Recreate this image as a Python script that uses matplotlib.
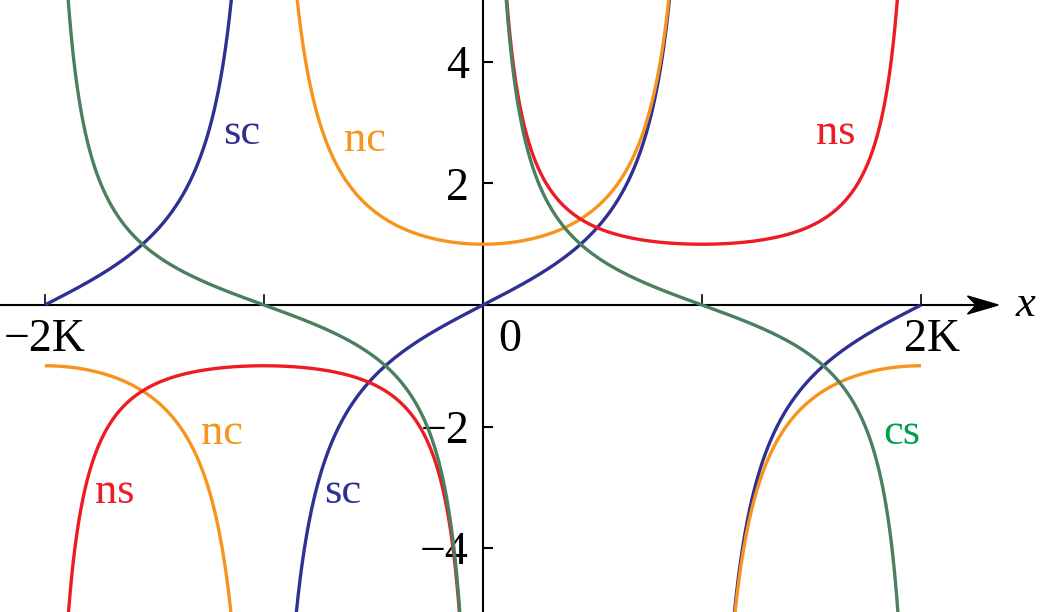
# Jacobi elliptic functions sc, nc, ns, cs on [-2K, 2K]
import numpy as np
import matplotlib
matplotlib.use("Agg")
import matplotlib.pyplot as plt
from matplotlib.patches import Polygon

plt.rcParams["font.family"] = ["Liberation Serif", "DejaVu Serif"]

# ---- data ----
M = 0.5  # parameter m = k^2
FUNCS = ["sc", "nc", "ns", "cs"]
COLORS = {"sc": "#2e3192", "nc": "#f7941d", "ns": "#ed1c24", "cs": "#4a7f5f"}
LABEL_COLORS = {"sc": "#2e3192", "nc": "#f7941d", "ns": "#ed1c24", "cs": "#00a14b"}
# branches between poles, in units of K
BRANCHES = {
    "sc": [(-2, -1), (-1, 1), (1, 2)],
    "nc": [(-2, -1), (-1, 1), (1, 2)],
    "ns": [(-2, 0), (0, 2)],
    "cs": [(-2, 0), (0, 2)],
}
LABELS = [("sc", -1.10, 2.83), ("nc", -0.54, 2.72), ("ns", 1.61, 2.83),
          ("nc", -1.19, -2.10), ("ns", -1.68, -3.07), ("sc", -0.64, -3.07),
          ("cs", 1.91, -2.10)]
XTICKS = [-2, -1, 1, 2]
YTICKS = [-4, -2, 2, 4]
XLIM = (-2.205, 2.543)
YLIM = (-5.053, 5.02)


def agm_K(m):
    a, b = 1.0, np.sqrt(1 - m)
    for _ in range(30):
        a, b = (a + b) / 2, np.sqrt(a * b)
    return np.pi / (2 * a)


def ellipj(u, m):
    # descending Landen / AGM, returns sn, cn
    a = [1.0]
    b = np.sqrt(1 - m)
    c = [np.sqrt(m)]
    while abs(c[-1]) > 1e-15 and len(a) < 20:
        an = (a[-1] + b) / 2
        cn_ = (a[-1] - b) / 2
        b = np.sqrt(a[-1] * b)
        a.append(an)
        c.append(cn_)
    n = len(a) - 1
    phi = (2 ** n) * a[n] * u
    for i in range(n, 0, -1):
        phi = (phi + np.arcsin(c[i] / a[i] * np.sin(phi))) / 2
    return np.sin(phi), np.cos(phi)


def func(name, u, m):
    sn, cn = ellipj(u, m)
    with np.errstate(divide="ignore", invalid="ignore"):
        return {"sc": sn / cn, "nc": 1 / cn, "ns": 1 / sn, "cs": cn / sn}[name]


K = agm_K(M)

fig = plt.figure(figsize=(10.4, 6.12), dpi=100)
ax = fig.add_axes([0, 0, 1, 1])

for name in FUNCS:
    for lo, hi in BRANCHES[name]:
        t = np.linspace(lo + 1e-4, hi - 1e-4, 1500)
        y = func(name, t * K, M)
        y[np.abs(y) > 8] = np.nan
        ax.plot(t, y, color=COLORS[name], lw=2.4, solid_capstyle="butt", zorder=3)

for name, tx, ty in LABELS:
    ax.text(tx, ty, name, color=LABEL_COLORS[name], fontsize=32,
            ha="center", va="center", zorder=4)

ax.set_xlim(*XLIM)
ax.set_ylim(*YLIM)
for s in ("top", "right", "bottom"):
    ax.spines[s].set_visible(False)
ax.spines["left"].set_position(("data", 0))
ax.spines["left"].set_linewidth(1.5)

# x axis with arrow head
tip = 2.352
ax.plot([XLIM[0], tip - 0.05], [0, 0], color="black", lw=1.5, zorder=2)
hw = 9 / 60.75
ax.add_patch(Polygon([(tip, 0), (tip - 0.14, hw), (tip - 0.10, 0), (tip - 0.14, -hw)],
                     closed=True, color="black", zorder=2))
ax.text(2.475, 0.0, "x", fontsize=32, style="italic", ha="center", va="center")

ax.set_xticks([])
ax.set_yticks(YTICKS)
ax.set_yticklabels([f"\u2212{abs(v)}" if v < 0 else str(v) for v in YTICKS])
ax.tick_params(axis="y", direction="in", length=7, width=1.5, pad=10, labelsize=33)
for xt in XTICKS:
    ax.plot([xt, xt], [0, 10 / 60.75], color="black", lw=1.2, zorder=2)

ax.text(-2.0, -0.58, "\u22122K", fontsize=33, ha="center", va="center")
ax.text(0.12, -0.58, "0", fontsize=33, ha="center", va="center")
ax.text(2.05, -0.58, "2K", fontsize=33, ha="center", va="center")

fig.savefig("out.png", dpi=100)
